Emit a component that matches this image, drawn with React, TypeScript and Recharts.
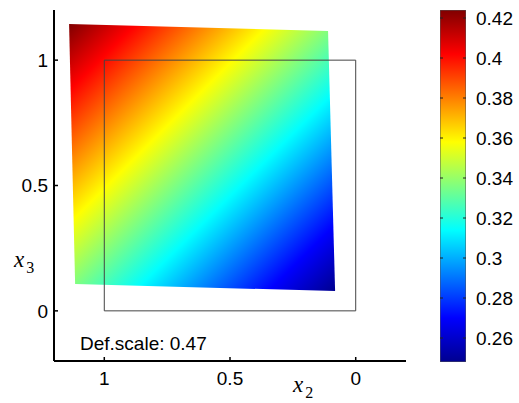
import { ComposedChart, Scatter, XAxis, YAxis, Customized } from 'recharts'

// deformed element corners (TL, TR, BR, BL) and the field value at each
const quadX = [1.14, 0.11, 0.082, 1.116]
const quadY = [1.144, 1.116, 0.079, 0.107]
const quadValue = [0.424, 0.336, 0.248, 0.336]

// undeformed unit square outline
const squareX = [1, 0, 0, 1, 1]
const squareY = [1, 1, 0, 0, 1]

const axisTicks = [0, 0.5, 1]
const colorTicks = [0.26, 0.28, 0.3, 0.32, 0.34, 0.36, 0.38, 0.4, 0.42]
const colorMin = 0.248
const colorMax = 0.424
const note = 'Def.scale: 0.47'

const quadData = quadX.map((x, i) => ({ x, y: quadY[i] }))
const squareData = squareX.map((x, i) => ({ x, y: squareY[i] }))
const barData = [
  { x: 0, y: colorMin },
  { x: 1, y: colorMax },
]

// matlab jet
const jet: [number, string][] = [
  [0, '#00008f'],
  [0.125, '#0000ff'],
  [0.375, '#00ffff'],
  [0.625, '#ffff00'],
  [0.875, '#ff0000'],
  [1, '#800000'],
]

const sans = '"Liberation Sans", Arial, Helvetica, sans-serif'
const serif = '"Liberation Serif", "Times New Roman", serif'
const fs = 19

function QuadFill({ points }: any) {
  if (!points || points.length < 4) return null
  const a = points[0]
  const b = points[2]
  const v0 = quadValue[0]
  const v1 = quadValue[2]
  const stops = jet
    .map(([t, c]) => {
      const v = colorMin + t * (colorMax - colorMin)
      return { off: Math.min(1, Math.max(0, (v0 - v) / (v0 - v1))), c }
    })
    .sort((p, q) => p.off - q.off)
  return (
    <g>
      <defs>
        <linearGradient id="quadGrad" gradientUnits="userSpaceOnUse" x1={a.x} y1={a.y} x2={b.x} y2={b.y}>
          {stops.map((s, i) => (
            <stop key={i} offset={s.off} stopColor={s.c} />
          ))}
        </linearGradient>
      </defs>
      <polygon points={points.map((p: any) => `${p.x},${p.y}`).join(' ')} fill="url(#quadGrad)" stroke="none" />
    </g>
  )
}

// colour bar body, spanned by the two scatter points (bottom-left, top-right)
function ColorBar({ points }: any) {
  if (!points || points.length < 2) return null
  const [p, q] = points
  const x0 = Math.min(p.x, q.x)
  const x1 = Math.max(p.x, q.x)
  const yAt = (v: number) => p.y + ((v - colorMin) / (colorMax - colorMin)) * (q.y - p.y)
  return (
    <g>
      <defs>
        <linearGradient id="cbGrad" x1="0" y1="1" x2="0" y2="0">
          {jet.map(([t, c], i) => (
            <stop key={i} offset={t} stopColor={c} />
          ))}
        </linearGradient>
      </defs>
      <rect
        x={x0}
        y={Math.min(p.y, q.y)}
        width={x1 - x0}
        height={Math.abs(q.y - p.y)}
        fill="url(#cbGrad)"
        stroke="#555"
        strokeWidth={1}
      />
      {colorTicks.map((v) => (
        <g key={v} stroke="#222" strokeWidth={1}>
          <line x1={x0} x2={x0 + 3} y1={yAt(v)} y2={yAt(v)} />
          <line x1={x1 - 3} x2={x1} y1={yAt(v)} y2={yAt(v)} />
        </g>
      ))}
    </g>
  )
}

const fmt = (v: number) => String(v)

function Labels() {
  return (
    <g>
      <text x={80} y={350} fontSize={fs} fontFamily={sans} fill="#000">{note}</text>
      <text x={14} y={267} fontSize={23} fontFamily={serif} fontStyle="italic" fill="#000">
        x<tspan fontStyle="normal" fontSize={16} dx={2} dy={6}>3</tspan>
      </text>
      <text x={293} y={392} fontSize={23} fontFamily={serif} fontStyle="italic" fill="#000">
        x<tspan fontStyle="normal" fontSize={16} dx={2} dy={6}>2</tspan>
      </text>
    </g>
  )
}

export default function App() {
  return (
    <div style={{ position: 'absolute', left: 0, top: 0, width: 519, height: 403, background: '#fff' }}>
      <div style={{ position: 'absolute', left: 0, top: 0 }}>
        <ComposedChart width={420} height={403} margin={{ top: 10, right: 14, left: 0, bottom: 0 }}>
          <XAxis
            type="number"
            dataKey="x"
            domain={[-0.2, 1.2]}
            reversed
            allowDataOverflow
            ticks={axisTicks}
            tickFormatter={fmt}
            height={42}
            axisLine={{ stroke: '#000', strokeWidth: 2 }}
            tickLine={{ stroke: '#000', strokeWidth: 1.5 }}
            tickSize={-4}
            tickMargin={15}
            tick={{ fill: '#000', fontSize: fs, fontFamily: sans }}
          />
          <YAxis
            type="number"
            dataKey="y"
            domain={[-0.2, 1.2]}
            allowDataOverflow
            ticks={axisTicks}
            tickFormatter={fmt}
            width={54}
            axisLine={{ stroke: '#000', strokeWidth: 2 }}
            tickLine={{ stroke: '#000', strokeWidth: 1.5 }}
            tickSize={-4}
            tickMargin={10}
            tick={{ fill: '#000', fontSize: fs, fontFamily: sans }}
          />
          <Scatter
            data={quadData}
            dataKey="y"
            line={(p: any) => <QuadFill {...p} />}
            lineType="joint"
            shape={() => <g />}
            isAnimationActive={false}
          />
          <Scatter
            data={squareData}
            dataKey="y"
            line={{ stroke: '#444', strokeWidth: 1 }}
            lineType="joint"
            shape={() => <g />}
            isAnimationActive={false}
          />
          <Customized component={Labels} />
        </ComposedChart>
      </div>
      <div style={{ position: 'absolute', left: 440, top: 0 }}>
        <ComposedChart width={79} height={403} margin={{ top: 10, right: 0, left: 0, bottom: 41 }}>
          <XAxis type="number" dataKey="x" domain={[0, 1]} allowDataOverflow hide />
          <Scatter
            yAxisId="r"
            data={barData}
            dataKey="y"
            line={(p: any) => <ColorBar {...p} />}
            lineType="joint"
            shape={() => <g />}
            isAnimationActive={false}
          />
          <YAxis
            yAxisId="r"
            orientation="right"
            type="number"
            dataKey="y"
            domain={[colorMin, colorMax]}
            allowDataOverflow
            ticks={colorTicks}
            tickFormatter={fmt}
            width={79 - 26}
            axisLine={false}
            tickLine={false}
            tickMargin={4}
            tick={{ fill: '#000', fontSize: fs, fontFamily: sans, textAnchor: 'start' }}
          />
        </ComposedChart>
      </div>
    </div>
  )
}
